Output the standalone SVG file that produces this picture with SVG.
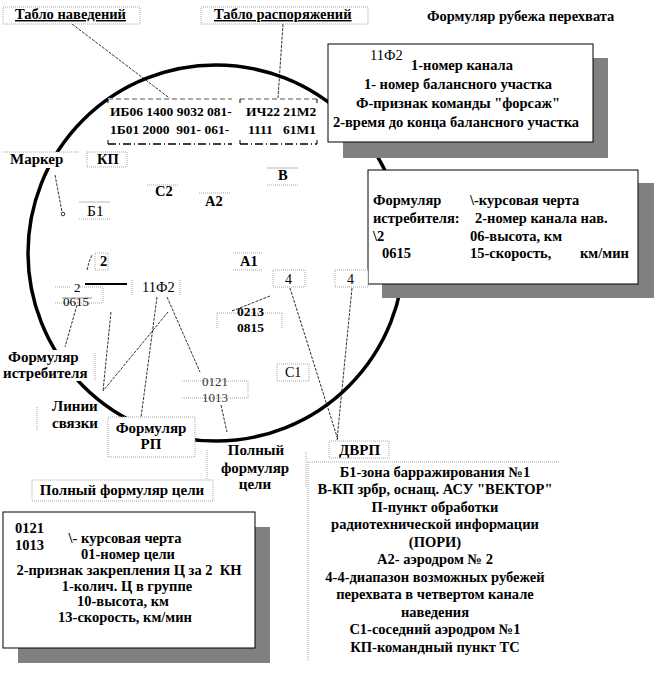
<svg xmlns="http://www.w3.org/2000/svg" width="656" height="675" viewBox="0 0 656 675">
<defs>
<style>
text{font-family:"Liberation Serif","Times New Roman",serif;fill:#000;white-space:pre}
.b{font-weight:bold;font-size:14.5px}
.r{font-size:14px}
.t{font-weight:bold;font-size:14.5px;text-decoration:underline}
.lb{fill:#fff;stroke:#a8a8a8;stroke-width:1;stroke-dasharray:1,1}
.wb{fill:#fff;stroke:none}
.dt{fill:none;stroke:#a8a8a8;stroke-width:1;stroke-dasharray:1,1}
.sg{fill:none;stroke:#b8b8b8;stroke-width:1}
.ln{fill:none;stroke:#000;stroke-width:0.8;stroke-dasharray:3,1.2}
.sh{fill:#808080}
.card{fill:#fff;stroke:#000;stroke-width:1}
.tt{fill:none;stroke:#555;stroke-width:1;stroke-dasharray:5,3}
.tb{fill:none;stroke:#000;stroke-width:1.6;stroke-dasharray:8,3,1,3}
.c{text-anchor:middle}
.m{font-size:13.5px}
.l{font-size:15px}
</style>
</defs>
<rect width="656" height="675" fill="#fff"/>

<g id="zone">
<circle cx="216" cy="253" r="188" fill="none" stroke="#000" stroke-width="3.5"/>
</g>

<g id="connectors">
<path class="ln" d="M72,24 L172,100"/>
<path class="ln" d="M283,24 L278,98"/>
<path class="ln" d="M55,175 L62,212"/>
<circle cx="63" cy="214" r="1.8" fill="#fff" stroke="#000" stroke-width="0.8"/>
<path class="ln" d="M87,270 L89,262 L92,255"/>
<path d="M85,284 L127,284" stroke="#000" stroke-width="2"/>
<path class="ln" d="M77,305 L65,347"/>
<path class="ln" d="M157,297 L140,425"/>
<path class="ln" d="M167,297 L200,372"/>
<path class="ln" d="M168,312 L103,391"/>
<path class="ln" d="M111,312 L103,391"/>
<path class="ln" d="M270,296 L232,311"/>
<path class="ln" d="M221,405 L227,432"/>
<path class="ln" d="M290,288 L338,440"/>
<path class="ln" d="M352,288 L337,440"/>
</g>

<g id="tablo-navedeniy-title">
<rect class="lb" x="3" y="7" width="137" height="17"/>
<text class="t" x="15" y="19">Табло наведений</text>
</g>
<g id="tablo-rasporyazheniy-title">
<rect class="lb" x="201" y="7" width="167" height="17"/>
<text class="t" x="214" y="19">Табло распоряжений</text>
</g>
<g id="rubezh-title">
<text class="b" x="427" y="21">Формуляр рубежа перехвата</text>
</g>

<g id="tablo-navedeniy">
<rect class="wb" x="108" y="98" width="125" height="46"/>
<path class="tt" d="M108,99 L232,99"/>
<path class="tb" d="M108,144 L232,144"/>
<path d="M108,99 v4 M108,140 v4" stroke="#000" stroke-width="1"/>
<text class="b m" x="110" y="116">ИБ06 1400 9032 081-</text>
<text class="b m" x="110" y="134">1Б01 2000  901- 061-</text>
</g>
<g id="tablo-rasporyazheniy">
<rect class="wb" x="240" y="98" width="78" height="46"/>
<path class="tt" d="M240,99 L317,99"/>
<path class="tb" d="M240,144 L317,144"/>
<path d="M240,99 v4 M240,140 v4 M317,99 v4 M317,140 v4" stroke="#000" stroke-width="1"/>
<text class="b m" x="246" y="116">ИЧ22 21М2</text>
<text class="b m" x="248" y="134">1111   61М1</text>
</g>

<g id="formular-rubezha">
<rect class="sh" x="343" y="58" width="265" height="100"/>
<rect class="card" x="328" y="44" width="265" height="98"/>
<text class="r" x="370" y="60" style="font-size:14.5px">11Ф2</text>
<text class="b c" x="462" y="70">1-номер канала</text>
<text class="b c" x="458" y="89">1- номер балансного участка</text>
<text class="b c" x="458" y="108">Ф-признак команды "форсаж"</text>
<text class="b c" x="456" y="127">2-время до конца балансного участка</text>
</g>

<g id="formular-istrebitelya-card">
<rect class="sh" x="382" y="183" width="272" height="115"/>
<rect class="card" x="368" y="170" width="270" height="114"/>
<text class="b" x="373" y="205">Формуляр</text>
<text class="b" x="470" y="205">\-курсовая черта</text>
<text class="b" x="373" y="223">истребителя:</text>
<text class="b" x="475" y="223">2-номер канала нав.</text>
<text class="b" x="373" y="241">\2</text>
<text class="b" x="470" y="241">06-высота, км</text>
<text class="b" x="382" y="258">0615</text>
<text class="b" x="470" y="258">15-скорость,</text>
<text class="b" x="580" y="258">км/мин</text>
</g>

<g id="marker">
<rect class="wb" x="3" y="152" width="76" height="16"/>
<path class="dt" d="M3,152 H79"/>
<text class="b l" x="10" y="164">Маркер</text>
</g>
<g id="kp">
<rect class="lb" x="87" y="152" width="40" height="15"/>
<text class="b" x="97" y="164">КП</text>
</g>
<g id="b1">
<path class="sg" d="M79,202 H110"/>
<path class="dt" d="M79,219 H110"/>
<text class="r" x="87" y="216" style="font-size:15.5px">Б1</text>
</g>
<g id="c2">
<path class="dt" d="M147,185 H178"/>
<text class="b" x="155" y="196">С2</text>
</g>
<g id="a2">
<path class="dt" d="M199,193 H230"/>
<text class="b" x="205" y="206">А2</text>
</g>
<g id="v">
<path class="sg" d="M267,168 H298"/>
<path class="dt" d="M267,185 H298"/>
<text class="b" x="278" y="180">В</text>
</g>
<g id="a1">
<path class="dt" d="M233,253 H263 M233,270 H263"/>
<text class="b" x="240" y="266">А1</text>
</g>
<g id="ch2">
<rect class="dt" x="95" y="253" width="13" height="17"/>
<text class="b" x="100" y="266">2</text>
</g>
<g id="istr-marker">
<path class="dt" d="M55,287 H71 M80,287 H103 V303 M55,303 H103"/>
<text x="74" y="292" style="font-size:13px">2</text>
<text x="63" y="306" style="font-size:13px">0615</text>
<path d="M62,298 H92" stroke="#777" stroke-width="0.8"/>
</g>
<g id="rp-11f2">
<path class="dt" d="M132,280 V296 M180,280 V296"/>
<text class="r" x="142" y="292" style="font-size:14.5px">11Ф2</text>
</g>
<g id="target-0213">
<path class="dt" d="M217,313 H282 M217,313 V328 M282,313 V328"/>
<text class="b m" x="237" y="316">0213</text>
<text class="b m" x="237" y="332">0815</text>
</g>
<g id="dvrp-4a">
<rect class="lb" x="273" y="270" width="32" height="17"/>
<text class="r" x="285" y="284">4</text>
</g>
<g id="dvrp-4b">
<rect class="lb" x="335" y="270" width="33" height="17"/>
<text class="r" x="347" y="284">4</text>
</g>
<g id="c1">
<rect class="lb" x="277" y="364" width="32" height="17"/>
<text class="r" x="285" y="377">С1</text>
</g>
<g id="target-0121">
<path class="dt" d="M182,381 H248 V398 M182,398 H248"/>
<text x="202" y="386" style="font-size:13px;fill:#333">0121</text>
<text x="202" y="402" style="font-size:13px;fill:#333">1013</text>
</g>

<g id="label-formular-istrebitelya">
<rect class="wb" x="2" y="350" width="93" height="31"/>
<path class="dt" d="M95,353 V380"/>
<text class="b l" x="8" y="362">Формуляр</text>
<text class="b l" x="3" y="378">истребителя</text>
</g>
<g id="label-linii">
<path class="dt" d="M37,407 V430"/>
<text class="b l" x="52" y="411">Линии</text>
<text class="b l" x="52" y="428">связки</text>
</g>
<g id="formular-rp">
<rect class="lb" x="108" y="417" width="87" height="40"/>
<text class="b l c" x="151" y="433">Формуляр</text>
<text class="b l c" x="151" y="449">РП</text>
</g>
<g id="label-polny">
<path class="dt" d="M207,450 V500 M306,452 V488"/>
<text class="b l c" x="256" y="455">Полный</text>
<text class="b l c" x="255" y="473">формуляр</text>
<text class="b l c" x="255" y="489">цели</text>
</g>
<g id="dvrp">
<rect class="lb" x="329" y="441" width="60" height="17"/>
<text class="b l" x="339" y="455">ДВРП</text>
</g>

<g id="title-polny-formular">
<rect class="lb" x="32" y="480" width="181" height="21"/>
<text class="b l c" x="122" y="495">Полный формуляр цели</text>
</g>
<g id="formular-celi-card">
<rect class="sh" x="18" y="527" width="252" height="136"/>
<rect class="card" x="3" y="512" width="252" height="136"/>
<text class="b" x="15" y="533">0121</text>
<text class="b" x="15" y="550">1013</text>
<text class="b c" x="125" y="543">\- курсовая черта</text>
<text class="b c" x="128" y="559">01-номер цели</text>
<text class="b c" x="129" y="575">2-признак закрепления Ц за 2  КН</text>
<text class="b c" x="127" y="591">1-колич. Ц в группе</text>
<text class="b c" x="123" y="606">10-высота, км</text>
<text class="b c" x="125" y="622">13-скорость, км/мин</text>
</g>

<g id="legend">
<path class="dt" d="M308,462 H560 M308,462 V662"/>
<text class="b c" x="435" y="477">Б1-зона барражирования №1</text>
<text class="b c" x="435" y="494">В-КП зрбр, оснащ. АСУ "ВЕКТОР"</text>
<text class="b c" x="435" y="512">П-пункт обработки</text>
<text class="b c" x="435" y="529">радиотехнической информации</text>
<text class="b c" x="435" y="547">(ПОРИ)</text>
<text class="b c" x="435" y="564">А2- аэродром № 2</text>
<text class="b c" x="435" y="582">4-4-диапазон возможных рубежей</text>
<text class="b c" x="435" y="599">перехвата в четвертом канале</text>
<text class="b c" x="435" y="617">наведения</text>
<text class="b c" x="435" y="634">С1-соседний аэродром №1</text>
<text class="b c" x="435" y="652">КП-командный пункт ТС</text>
</g>
</svg>
